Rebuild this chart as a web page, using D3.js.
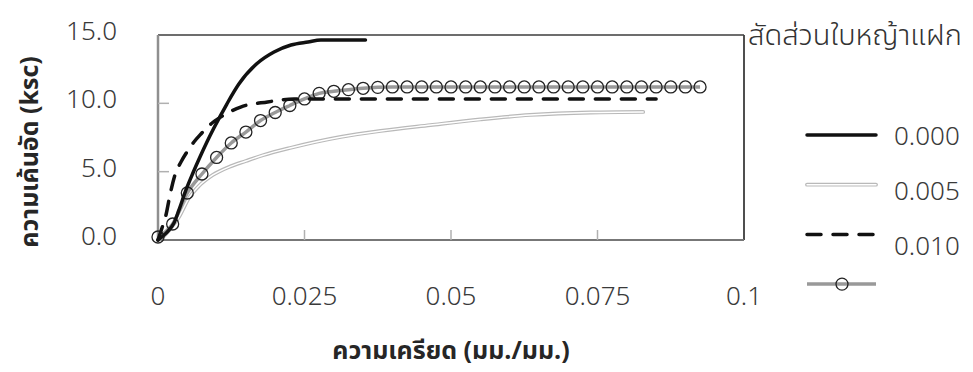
<!DOCTYPE html>
<html>
<head>
<meta charset="utf-8">
<script src="https://cdn.jsdelivr.net/npm/d3@7"></script>
<style>
  html, body { margin: 0; padding: 0; background: #fff; }
  svg { display: block; }
  .tick-label { font-family: "Noto Sans Thai", "Noto Sans", "Open Sans", sans-serif; font-weight: 300; font-size: 26px; fill: #3a3a3a; }
  .axis-title { font-family: "Noto Sans Thai", "Noto Sans", "Open Sans", sans-serif; font-weight: 700; font-size: 25px; fill: #262626; }
  .legend-title { font-family: "Noto Sans Thai", "Noto Sans", "Open Sans", sans-serif; font-weight: 300; font-size: 29px; fill: #333; }
</style>
</head>
<body>
<svg id="chart" width="973" height="372"></svg>
<script>
// Stress–strain curves for different vetiver-leaf ratios
const xTicks = [0, 0.025, 0.05, 0.075, 0.1];
const xTickLabels = ["0", "0.025", "0.05", "0.075", "0.1"];
const yTicks = [0, 5, 10, 15];
const yTickLabels = ["0.0", "5.0", "10.0", "15.0"];

const legendTitle = "สัดส่วนใบหญ้าแฝก";
const legendLabels = ["0.000", "0.005", "0.010", ""];
const xTitle = "ความเครียด (มม./มม.)";
const yTitle = "ความเค้นอัด (ksc)";

// ratio 0.000
const strainA = [0, 0.00085, 0.00187, 0.00273, 0.00358, 0.00477, 0.00596, 0.00716, 0.00835, 0.00954, 0.01175, 0.0138, 0.0170, 0.0198, 0.0227, 0.0256, 0.0278, 0.0354];
const stressA = [0, 0.29, 0.73, 1.24, 2.20, 3.66, 4.90, 6.07, 7.17, 8.19, 9.95, 11.41, 12.95, 13.76, 14.27, 14.49, 14.63, 14.63];

// ratio 0.005
const strainB = [0, 0.00102, 0.00221, 0.00358, 0.00528, 0.00698, 0.00937, 0.0121, 0.0150, 0.0179, 0.0227, 0.0312, 0.0380, 0.0465, 0.0550, 0.0635, 0.0738, 0.0828];
const stressB = [0, 0.29, 0.88, 1.68, 3.07, 3.95, 4.76, 5.34, 5.78, 6.20, 6.75, 7.54, 7.98, 8.41, 8.82, 9.15, 9.33, 9.37];

// ratio 0.010
const strainC = [0, 0.00068, 0.00136, 0.00204, 0.0029, 0.00392, 0.00494, 0.00613, 0.00733, 0.00903, 0.0107, 0.0141, 0.0187, 0.0232, 0.085];
const stressC = [0, 0.88, 1.83, 3.29, 4.76, 5.71, 6.44, 7.17, 7.76, 8.49, 9.0, 9.73, 10.10, 10.32, 10.32];

// fourth ratio, sampled every 0.0025 with markers
const strainD = [0, 0.0025, 0.005, 0.0075, 0.01, 0.0125, 0.015, 0.0175, 0.02, 0.0225,
                 0.025, 0.0275, 0.03, 0.0325, 0.035, 0.0375, 0.04, 0.0425, 0.045, 0.0475,
                 0.05, 0.0525, 0.055, 0.0575, 0.06, 0.0625, 0.065, 0.0675, 0.07, 0.0725,
                 0.075, 0.0775, 0.08, 0.0825, 0.085, 0.0875, 0.09, 0.0925];
const stressD = [0.22, 1.17, 3.44, 4.83, 6.04, 7.10, 7.90, 8.74, 9.33, 9.84,
                 10.32, 10.73, 10.88, 11.0, 11.10, 11.17, 11.2, 11.2, 11.2, 11.2,
                 11.2, 11.2, 11.2, 11.2, 11.2, 11.2, 11.2, 11.2, 11.2, 11.2,
                 11.2, 11.2, 11.2, 11.2, 11.2, 11.2, 11.2, 11.2];

const svg = d3.select("#chart");
const plot = { left: 158, right: 744, top: 35, bottom: 240 };

const x = d3.scaleLinear().domain([0, 0.1]).range([plot.left, plot.right]);
const y = d3.scaleLinear().domain([0, 15]).range([plot.bottom, plot.top]);

const zip = (xs, ys) => xs.map((v, i) => [v, ys[i]]);
const line = d3.line().x(d => x(d[0])).y(d => y(d[1])).curve(d3.curveMonotoneX);

// frame
svg.append("line").attr("x1", plot.left).attr("x2", plot.right).attr("y1", plot.top).attr("y2", plot.top)
  .attr("stroke", "#3c3c3c").attr("stroke-width", 1.5);
svg.append("line").attr("x1", plot.right).attr("x2", plot.right).attr("y1", plot.top).attr("y2", plot.bottom)
  .attr("stroke", "#3c3c3c").attr("stroke-width", 1.8);
svg.append("line").attr("x1", plot.left).attr("x2", plot.left).attr("y1", plot.top).attr("y2", plot.bottom)
  .attr("stroke", "#8f8f8f").attr("stroke-width", 2.5);
svg.append("line").attr("x1", plot.left).attr("x2", plot.right).attr("y1", plot.bottom).attr("y2", plot.bottom)
  .attr("stroke", "#777").attr("stroke-width", 2);

// inward ticks
const tickG = svg.append("g");
tickG.selectAll(".xt").data(xTicks.slice(1, -1)).join("line")
  .attr("x1", d => x(d)).attr("x2", d => x(d))
  .attr("y1", plot.bottom).attr("y2", plot.bottom - 10)
  .attr("stroke", "#b0b0b0").attr("stroke-width", 1.5);
tickG.selectAll(".yt").data(yTicks.slice(1, -1)).join("line")
  .attr("x1", plot.left).attr("x2", plot.left + 11)
  .attr("y1", d => y(d)).attr("y2", d => y(d))
  .attr("stroke", "#b0b0b0").attr("stroke-width", 1.5);

// tick labels
svg.append("g").selectAll("text").data(xTicks).join("text")
  .attr("class", "tick-label")
  .attr("x", d => x(d)).attr("y", 297)
  .attr("text-anchor", "middle").attr("dominant-baseline", "central")
  .text((d, i) => xTickLabels[i]);
svg.append("g").selectAll("text").data(yTicks).join("text")
  .attr("class", "tick-label")
  .attr("x", 117).attr("y", d => y(d) - 3)
  .attr("text-anchor", "end").attr("dominant-baseline", "central")
  .text((d, i) => yTickLabels[i]);

// axis titles
svg.append("text").attr("class", "axis-title")
  .attr("x", 451).attr("y", 351)
  .attr("text-anchor", "middle").attr("dominant-baseline", "central")
  .text(xTitle);
svg.append("text").attr("class", "axis-title")
  .attr("transform", "translate(30,152) rotate(-90)")
  .attr("text-anchor", "middle").attr("dominant-baseline", "central")
  .text(yTitle);

// series drawing helpers
const series = [
  { data: zip(strainA, stressA), kind: "solid" },
  { data: zip(strainB, stressB), kind: "double" },
  { data: zip(strainC, stressC), kind: "dash" },
  { data: zip(strainD, stressD), kind: "marker" }
];

function drawStroke(g, d, kind, pathFn) {
  if (kind === "solid") {
    g.append("path").attr("d", pathFn(d)).attr("fill", "none")
      .attr("stroke", "#111").attr("stroke-width", 3.5).attr("stroke-linecap", "round");
  } else if (kind === "double") {
    g.append("path").attr("d", pathFn(d)).attr("fill", "none")
      .attr("stroke", "#b9b9b9").attr("stroke-width", 3.8).attr("stroke-linecap", "round");
    g.append("path").attr("d", pathFn(d)).attr("fill", "none")
      .attr("stroke", "#fff").attr("stroke-width", 1.4).attr("stroke-linecap", "round");
  } else if (kind === "dash") {
    g.append("path").attr("d", pathFn(d)).attr("fill", "none")
      .attr("stroke", "#111").attr("stroke-width", 3.5)
      .attr("stroke-dasharray", "14,12").attr("stroke-linecap", "round");
  } else {
    g.append("path").attr("d", pathFn(d)).attr("fill", "none")
      .attr("stroke", "#999").attr("stroke-width", 3.5);
  }
}

const plotG = svg.append("g");
// draw order keeps the dark lines above the gray ones
[1, 3, 2, 0].forEach(i => {
  const s = series[i];
  drawStroke(plotG, s.data, s.kind, line);
  if (s.kind === "marker") {
    plotG.append("g").selectAll("circle").data(s.data).join("circle")
      .attr("cx", d => x(d[0])).attr("cy", d => y(d[1])).attr("r", 6)
      .attr("fill", "none").attr("stroke", "#222").attr("stroke-width", 1.3);
  }
});

// legend
const legend = svg.append("g");
legend.append("text").attr("class", "legend-title")
  .attr("x", 748).attr("y", 36).attr("dominant-baseline", "central")
  .text(legendTitle);
const legendLine = d3.line();
series.forEach((s, i) => {
  const ly = 135 + i * 49.7;
  drawStroke(legend, [[807, ly], [876, ly]], s.kind, legendLine);
  if (s.kind === "marker") {
    legend.append("circle").attr("cx", 842).attr("cy", ly).attr("r", 6)
      .attr("fill", "none").attr("stroke", "#222").attr("stroke-width", 1.3);
  }
  if (legendLabels[i]) {
    legend.append("text").attr("class", "tick-label")
      .attr("x", 894).attr("y", 137 + i * 55).attr("dominant-baseline", "central")
      .text(legendLabels[i]);
  }
});
</script>
</body>
</html>
